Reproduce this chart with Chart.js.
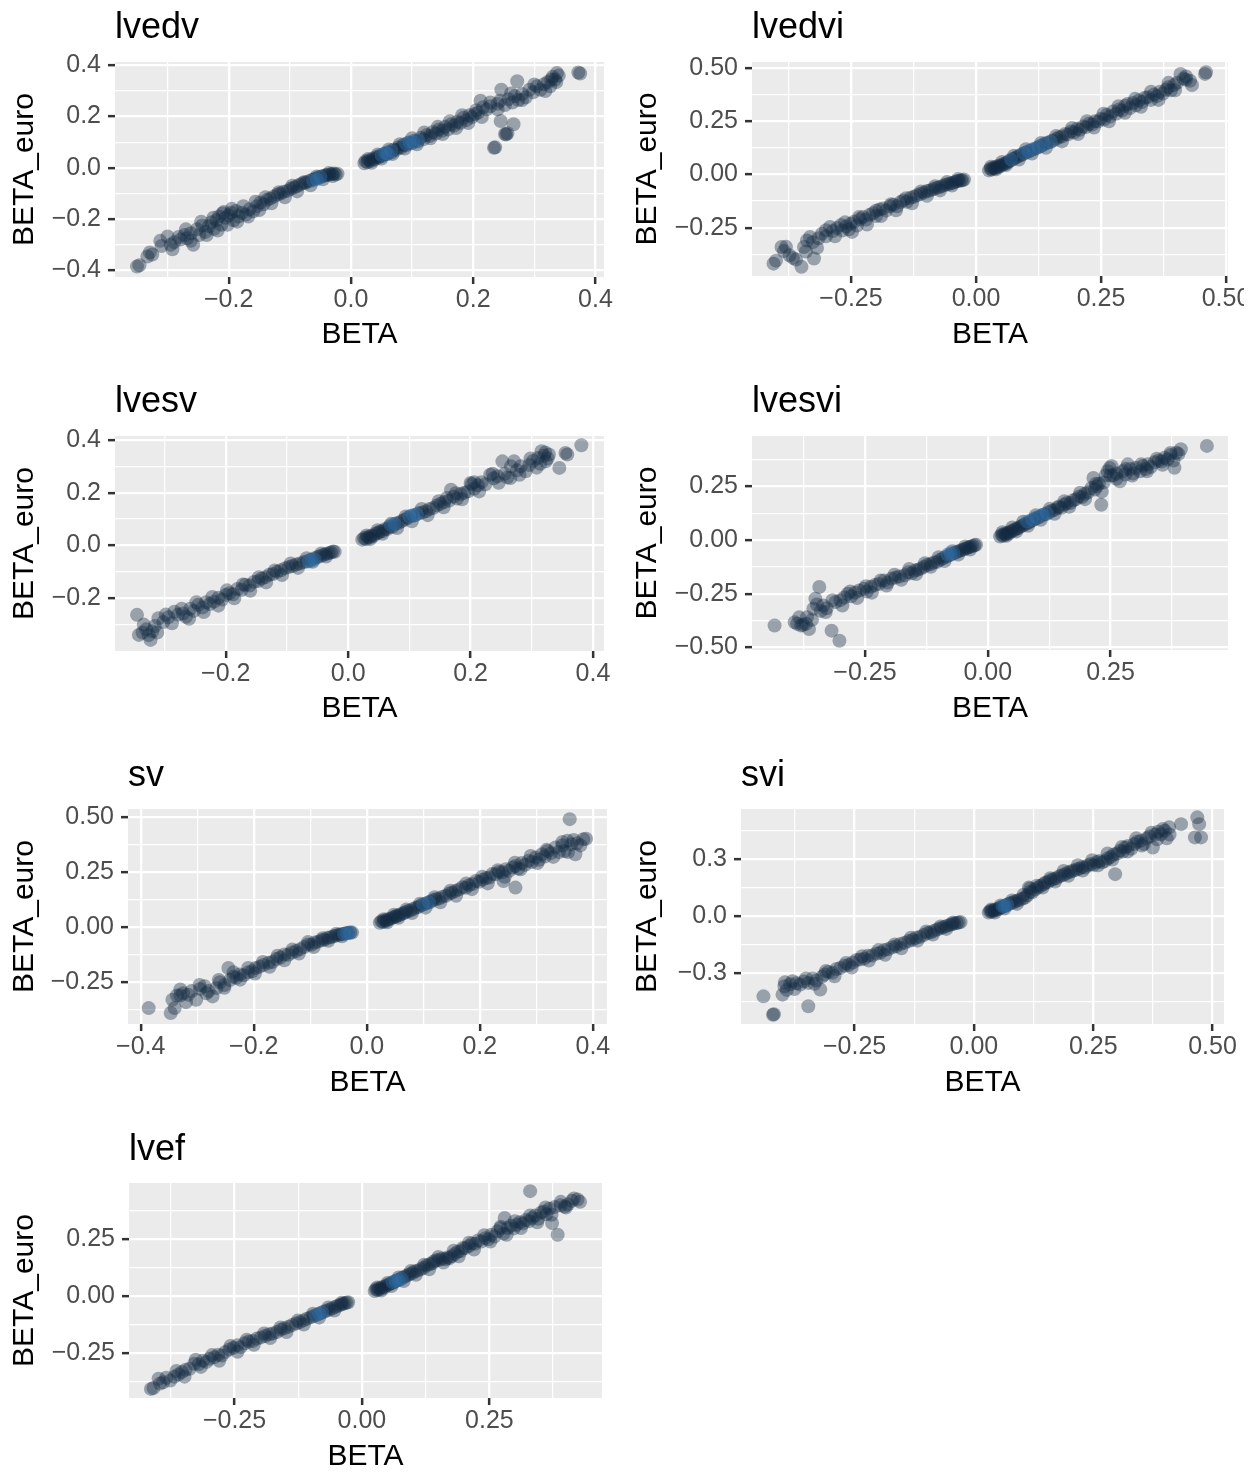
<!DOCTYPE html>
<html><head><meta charset="utf-8">
<script src="https://cdn.jsdelivr.net/npm/chart.js@4.4.1/dist/chart.umd.min.js"></script>
<style>
html,body{margin:0;padding:0;background:#fff;width:1258px;height:1472px;overflow:hidden;position:relative;}
canvas{position:absolute;}
</style></head><body>
<script>
// ---------------- DATA ----------------
const panelTitles = ["lvedv","lvedvi","lvesv","lvesvi","sv","svi","lvef"];
const xAxisTitle = "BETA";
const yAxisTitle = "BETA_euro";

// tick values and labels
const lvedvXTicks = [-0.2,0,0.2,0.4];      const lvedvXLabels = ["−0.2","0.0","0.2","0.4"];
const lvedvYTicks = [-0.4,-0.2,0,0.2,0.4]; const lvedvYLabels = ["−0.4","−0.2","0.0","0.2","0.4"];
const lvedviXTicks = [-0.25,0,0.25,0.5];   const lvedviXLabels = ["−0.25","0.00","0.25","0.50"];
const lvedviYTicks = [-0.25,0,0.25,0.5];   const lvedviYLabels = ["−0.25","0.00","0.25","0.50"];
const lvesvXTicks = [-0.2,0,0.2,0.4];      const lvesvXLabels = ["−0.2","0.0","0.2","0.4"];
const lvesvYTicks = [-0.2,0,0.2,0.4];      const lvesvYLabels = ["−0.2","0.0","0.2","0.4"];
const lvesviXTicks = [-0.25,0,0.25];       const lvesviXLabels = ["−0.25","0.00","0.25"];
const lvesviYTicks = [-0.5,-0.25,0,0.25];  const lvesviYLabels = ["−0.50","−0.25","0.00","0.25"];
const svXTicks = [-0.4,-0.2,0,0.2,0.4];    const svXLabels = ["−0.4","−0.2","0.0","0.2","0.4"];
const svYTicks = [-0.25,0,0.25,0.5];       const svYLabels = ["−0.25","0.00","0.25","0.50"];
const sviXTicks = [-0.25,0,0.25,0.5];      const sviXLabels = ["−0.25","0.00","0.25","0.50"];
const sviYTicks = [-0.3,0,0.3];            const sviYLabels = ["−0.3","0.0","0.3"];
const lvefXTicks = [-0.25,0,0.25];         const lvefXLabels = ["−0.25","0.00","0.25"];
const lvefYTicks = [-0.25,0,0.25];         const lvefYLabels = ["−0.25","0.00","0.25"];

// points [BETA, BETA_euro]
const lvedvPts = [[-0.350,-0.385],[-0.346,-0.380],[-0.333,-0.346],[-0.329,-0.330],[-0.325,-0.338],[-0.312,-0.285],[-0.310,-0.305],[-0.295,-0.300],[-0.289,-0.290],[-0.282,-0.270],[-0.279,-0.280],[-0.272,-0.262],[-0.268,-0.275],[-0.262,-0.255],[-0.258,-0.300],[-0.252,-0.240],[-0.248,-0.262],[-0.243,-0.225],[-0.238,-0.250],[-0.232,-0.228],[-0.228,-0.212],[-0.224,-0.238],[-0.220,-0.205],[-0.216,-0.190],[-0.212,-0.222],[-0.208,-0.172],[-0.205,-0.195],[-0.200,-0.185],[-0.196,-0.175],[-0.192,-0.205],[-0.188,-0.168],[-0.184,-0.190],[-0.178,-0.175],[-0.172,-0.182],[-0.166,-0.162],[-0.160,-0.170],[-0.154,-0.150],[-0.148,-0.135],[-0.143,-0.142],[-0.137,-0.125],[-0.132,-0.120],[-0.126,-0.112],[-0.120,-0.104],[-0.115,-0.100],[-0.110,-0.093],[-0.104,-0.090],[-0.099,-0.082],[-0.094,-0.078],[-0.089,-0.072],[-0.084,-0.066],[-0.079,-0.060],[-0.074,-0.058],[-0.069,-0.052],[-0.064,-0.047],[-0.060,-0.044],[-0.055,-0.040],[-0.051,-0.036],[-0.047,-0.033],[-0.043,-0.030],[-0.039,-0.028],[-0.035,-0.026],[-0.031,-0.024],[-0.028,-0.022],[-0.025,-0.026],[-0.022,-0.023],
[0.022,0.018],[0.024,0.026],[0.027,0.022],[0.030,0.030],[0.033,0.027],[0.036,0.036],[0.039,0.033],[0.042,0.042],[0.045,0.040],[0.048,0.048],[0.051,0.046],[0.055,0.055],[0.058,0.053],[0.062,0.062],[0.066,0.060],[0.070,0.072],[0.074,0.070],[0.078,0.080],[0.082,0.078],[0.086,0.090],[0.090,0.088],[0.094,0.098],[0.099,0.096],[0.104,0.106],[0.109,0.104],[0.114,0.117],[0.119,0.112],[0.124,0.128],[0.129,0.124],[0.134,0.140],[0.139,0.134],[0.144,0.150],[0.149,0.145],[0.154,0.160],[0.159,0.150],[0.164,0.170],[0.169,0.165],[0.174,0.180],[0.179,0.175],[0.184,0.195],[0.189,0.186],[0.194,0.205],[0.198,0.198],[0.203,0.210],[0.208,0.215],[0.212,0.262],[0.216,0.236],[0.222,0.228],[0.228,0.240],[0.234,0.078],[0.236,0.080],[0.240,0.250],[0.244,0.262],[0.246,0.305],[0.245,0.183],[0.252,0.132],[0.254,0.130],[0.256,0.135],[0.252,0.245],[0.258,0.268],[0.264,0.255],[0.266,0.170],[0.268,0.280],[0.272,0.338],[0.274,0.265],[0.280,0.288],[0.286,0.275],[0.292,0.305],[0.298,0.295],[0.304,0.318],[0.310,0.305],[0.316,0.326],[0.322,0.335],[0.326,0.318],[0.330,0.355],[0.334,0.345],[0.337,0.370],[0.340,0.360],[0.372,0.372],[0.375,0.368]];
const lvedvPts2 = [[-0.300,-0.268],[-0.292,-0.318],[-0.270,-0.240],[-0.262,-0.285],[-0.245,-0.210],[-0.236,-0.262],[-0.225,-0.195],[-0.218,-0.245],[-0.210,-0.178],[-0.202,-0.222],[-0.195,-0.160],[-0.186,-0.210],[-0.176,-0.150],[-0.168,-0.190],[-0.156,-0.132],[-0.150,-0.165],[-0.140,-0.115],[-0.130,-0.138],[-0.118,-0.095],[-0.108,-0.115],[-0.096,-0.070],[-0.088,-0.092],[-0.076,-0.055],[-0.066,-0.068],[-0.056,-0.034],[-0.046,-0.045],[-0.036,-0.020],[-0.030,-0.032],
[0.028,0.034],[0.034,0.020],[0.044,0.052],[0.050,0.036],[0.062,0.072],[0.068,0.054],[0.080,0.092],[0.088,0.075],[0.100,0.115],[0.108,0.092],[0.120,0.138],[0.130,0.115],[0.142,0.160],[0.150,0.132],[0.162,0.182],[0.172,0.155],[0.182,0.205],[0.192,0.175],[0.205,0.225],[0.214,0.198],[0.228,0.255],[0.240,0.228],[0.262,0.290],[0.280,0.265],[0.300,0.325],[0.318,0.300],[0.328,0.345],[0.336,0.335]];
const lvedvBlue = [[-0.062,-0.050],[-0.056,-0.045],[-0.050,-0.038],[0.050,0.050],[0.056,0.058],[0.060,0.055],[0.066,0.066],[0.090,0.094],[0.096,0.100],[0.102,0.100],[0.110,0.108]];

const lvedviPts = [[-0.405,-0.419],[-0.400,-0.405],[-0.389,-0.341],[-0.384,-0.360],[-0.373,-0.380],[-0.366,-0.392],[-0.349,-0.434],[-0.344,-0.341],[-0.340,-0.362],[-0.332,-0.294],[-0.326,-0.318],[-0.324,-0.395],[-0.315,-0.300],[-0.308,-0.278],[-0.300,-0.290],[-0.292,-0.247],[-0.286,-0.266],[-0.278,-0.252],[-0.270,-0.238],[-0.267,-0.263],[-0.260,-0.245],[-0.254,-0.258],[-0.251,-0.232],[-0.244,-0.222],[-0.238,-0.240],[-0.232,-0.210],[-0.226,-0.200],[-0.220,-0.212],[-0.213,-0.190],[-0.206,-0.182],[-0.200,-0.195],[-0.193,-0.165],[-0.186,-0.160],[-0.180,-0.170],[-0.172,-0.150],[-0.165,-0.142],[-0.158,-0.150],[-0.151,-0.130],[-0.145,-0.122],[-0.138,-0.128],[-0.131,-0.110],[-0.124,-0.105],[-0.118,-0.098],[-0.111,-0.092],[-0.104,-0.085],[-0.098,-0.078],[-0.092,-0.075],[-0.086,-0.070],[-0.080,-0.064],[-0.074,-0.060],[-0.068,-0.055],[-0.062,-0.050],[-0.057,-0.046],[-0.052,-0.043],[-0.047,-0.040],[-0.042,-0.035],[-0.038,-0.032],[-0.034,-0.030],[-0.030,-0.027],[-0.027,-0.028],[-0.024,-0.024],
[0.026,0.019],[0.029,0.027],[0.032,0.023],[0.035,0.032],[0.038,0.029],[0.041,0.037],[0.044,0.034],[0.047,0.042],[0.050,0.040],[0.054,0.048],[0.058,0.050],[0.062,0.056],[0.066,0.062],[0.070,0.066],[0.074,0.072],[0.079,0.078],[0.084,0.084],[0.089,0.090],[0.094,0.096],[0.099,0.102],[0.105,0.108],[0.111,0.114],[0.117,0.120],[0.123,0.126],[0.129,0.132],[0.135,0.140],[0.141,0.148],[0.147,0.152],[0.153,0.158],[0.160,0.166],[0.166,0.175],[0.172,0.178],[0.178,0.190],[0.184,0.188],[0.190,0.202],[0.196,0.198],[0.202,0.214],[0.208,0.210],[0.214,0.225],[0.220,0.222],[0.226,0.238],[0.232,0.234],[0.238,0.250],[0.244,0.248],[0.250,0.262],[0.256,0.258],[0.262,0.280],[0.268,0.272],[0.274,0.295],[0.280,0.285],[0.286,0.305],[0.292,0.300],[0.298,0.322],[0.303,0.331],[0.308,0.312],[0.314,0.335],[0.320,0.325],[0.326,0.348],[0.332,0.340],[0.338,0.360],[0.344,0.363],[0.350,0.350],[0.356,0.375],[0.362,0.368],[0.368,0.388],[0.374,0.380],[0.380,0.398],[0.384,0.409],[0.390,0.395],[0.396,0.420],[0.402,0.430],[0.409,0.472],[0.415,0.450],[0.420,0.445],[0.428,0.440],[0.458,0.472],[0.460,0.480]];
const lvedviPts2 = [[-0.380,-0.340],[-0.360,-0.400],[-0.338,-0.310],[-0.318,-0.345],[-0.300,-0.262],[-0.282,-0.290],[-0.262,-0.225],[-0.248,-0.270],[-0.234,-0.200],[-0.218,-0.235],[-0.200,-0.170],[-0.190,-0.195],[-0.170,-0.140],[-0.160,-0.168],[-0.140,-0.112],[-0.128,-0.135],[-0.110,-0.080],[-0.098,-0.100],[-0.082,-0.055],[-0.072,-0.075],[-0.058,-0.035],[-0.048,-0.052],[-0.036,-0.022],
[0.030,0.036],[0.040,0.024],[0.052,0.058],[0.060,0.044],[0.076,0.088],[0.086,0.070],[0.100,0.118],[0.112,0.098],[0.130,0.148],[0.140,0.125],[0.160,0.180],[0.172,0.155],[0.192,0.218],[0.204,0.190],[0.222,0.250],[0.236,0.220],[0.255,0.285],[0.266,0.250],[0.285,0.320],[0.298,0.290],[0.318,0.355],[0.330,0.318],[0.350,0.388],[0.365,0.350],[0.385,0.430],[0.398,0.395],[0.420,0.460],[0.432,0.420]];
const lvedviBlue = [[0.070,0.070],[0.095,0.100],[0.105,0.110],[0.115,0.120],[0.125,0.128],[0.135,0.142],[0.150,0.152]];

const lvesvPts = [[-0.345,-0.263],[-0.342,-0.339],[-0.336,-0.330],[-0.330,-0.318],[-0.326,-0.340],[-0.323,-0.358],[-0.320,-0.325],[-0.316,-0.305],[-0.310,-0.276],[-0.302,-0.290],[-0.294,-0.272],[-0.284,-0.251],[-0.278,-0.262],[-0.270,-0.258],[-0.265,-0.270],[-0.258,-0.240],[-0.252,-0.248],[-0.245,-0.225],[-0.238,-0.235],[-0.232,-0.215],[-0.226,-0.222],[-0.219,-0.213],[-0.212,-0.198],[-0.206,-0.205],[-0.200,-0.188],[-0.194,-0.181],[-0.188,-0.185],[-0.181,-0.165],[-0.174,-0.168],[-0.168,-0.149],[-0.161,-0.152],[-0.154,-0.138],[-0.147,-0.135],[-0.141,-0.125],[-0.135,-0.120],[-0.129,-0.111],[-0.123,-0.108],[-0.116,-0.100],[-0.110,-0.094],[-0.103,-0.086],[-0.097,-0.082],[-0.091,-0.078],[-0.085,-0.072],[-0.079,-0.068],[-0.073,-0.064],[-0.067,-0.060],[-0.061,-0.054],[-0.055,-0.048],[-0.050,-0.044],[-0.045,-0.040],[-0.040,-0.035],[-0.036,-0.032],[-0.032,-0.029],[-0.028,-0.027],[-0.025,-0.023],[-0.022,-0.024],
[0.023,0.022],[0.026,0.028],[0.029,0.024],[0.032,0.032],[0.035,0.030],[0.038,0.038],[0.041,0.036],[0.045,0.044],[0.049,0.048],[0.052,0.053],[0.056,0.054],[0.060,0.062],[0.064,0.062],[0.068,0.072],[0.072,0.070],[0.077,0.082],[0.082,0.085],[0.087,0.092],[0.092,0.098],[0.097,0.104],[0.103,0.112],[0.109,0.114],[0.115,0.122],[0.121,0.125],[0.127,0.130],[0.133,0.138],[0.139,0.142],[0.145,0.152],[0.151,0.158],[0.157,0.165],[0.161,0.180],[0.165,0.170],[0.168,0.211],[0.172,0.185],[0.178,0.178],[0.184,0.195],[0.190,0.200],[0.196,0.205],[0.200,0.237],[0.202,0.232],[0.206,0.215],[0.212,0.228],[0.218,0.240],[0.224,0.232],[0.232,0.268],[0.238,0.255],[0.244,0.262],[0.252,0.319],[0.256,0.272],[0.260,0.258],[0.265,0.256],[0.271,0.319],[0.276,0.285],[0.282,0.300],[0.290,0.281],[0.296,0.305],[0.302,0.320],[0.310,0.332],[0.314,0.310],[0.316,0.357],[0.320,0.340],[0.323,0.319],[0.328,0.345],[0.345,0.294],[0.355,0.351],[0.358,0.345],[0.381,0.380]];
const lvesvPts2 = [[-0.334,-0.300],[-0.312,-0.330],[-0.298,-0.262],[-0.288,-0.295],[-0.272,-0.240],[-0.260,-0.278],[-0.248,-0.215],[-0.236,-0.252],[-0.222,-0.195],[-0.212,-0.228],[-0.198,-0.170],[-0.186,-0.200],[-0.172,-0.148],[-0.160,-0.172],[-0.146,-0.120],[-0.134,-0.140],[-0.120,-0.095],[-0.108,-0.112],[-0.094,-0.068],[-0.082,-0.085],[-0.068,-0.048],[-0.058,-0.062],[-0.044,-0.030],[-0.036,-0.042],
[0.030,0.038],[0.036,0.024],[0.048,0.058],[0.056,0.044],[0.070,0.082],[0.080,0.066],[0.094,0.110],[0.104,0.092],[0.120,0.138],[0.130,0.115],[0.148,0.168],[0.156,0.145],[0.176,0.198],[0.186,0.175],[0.206,0.240],[0.214,0.205],[0.236,0.272],[0.246,0.238],[0.266,0.300],[0.280,0.268],[0.298,0.330],[0.308,0.295],[0.322,0.352],[0.326,0.330]];
const lvesvBlue = [[-0.065,-0.061],[-0.060,-0.058],[-0.055,-0.052],[0.070,0.078],[0.076,0.082],[0.100,0.110],[0.106,0.116],[0.112,0.118]];

const lvesviPts = [[-0.434,-0.398],[-0.393,-0.383],[-0.388,-0.390],[-0.380,-0.398],[-0.376,-0.395],[-0.368,-0.359],[-0.364,-0.414],[-0.358,-0.372],[-0.355,-0.320],[-0.351,-0.273],[-0.343,-0.219],[-0.340,-0.330],[-0.335,-0.305],[-0.328,-0.318],[-0.318,-0.422],[-0.310,-0.289],[-0.302,-0.469],[-0.300,-0.280],[-0.292,-0.268],[-0.285,-0.250],[-0.278,-0.262],[-0.270,-0.245],[-0.262,-0.235],[-0.252,-0.227],[-0.246,-0.240],[-0.238,-0.218],[-0.230,-0.210],[-0.222,-0.205],[-0.211,-0.188],[-0.204,-0.198],[-0.196,-0.180],[-0.188,-0.175],[-0.180,-0.170],[-0.169,-0.164],[-0.162,-0.150],[-0.155,-0.155],[-0.148,-0.142],[-0.142,-0.138],[-0.136,-0.133],[-0.130,-0.125],[-0.123,-0.115],[-0.116,-0.112],[-0.110,-0.105],[-0.103,-0.102],[-0.097,-0.092],[-0.091,-0.085],[-0.085,-0.078],[-0.079,-0.072],[-0.073,-0.066],[-0.067,-0.060],[-0.062,-0.055],[-0.057,-0.050],[-0.052,-0.046],[-0.047,-0.042],[-0.043,-0.038],[-0.039,-0.034],[-0.035,-0.031],[-0.031,-0.028],[-0.027,-0.025],[-0.024,-0.022],
[0.025,0.016],[0.028,0.024],[0.031,0.020],[0.034,0.029],[0.037,0.025],[0.040,0.034],[0.043,0.030],[0.046,0.040],[0.050,0.042],[0.054,0.048],[0.058,0.052],[0.062,0.055],[0.066,0.062],[0.070,0.066],[0.075,0.072],[0.080,0.078],[0.085,0.084],[0.090,0.090],[0.095,0.096],[0.100,0.102],[0.106,0.108],[0.112,0.117],[0.118,0.120],[0.124,0.128],[0.130,0.136],[0.136,0.140],[0.142,0.150],[0.145,0.156],[0.150,0.150],[0.156,0.165],[0.161,0.172],[0.168,0.172],[0.174,0.185],[0.180,0.190],[0.186,0.203],[0.192,0.200],[0.198,0.215],[0.204,0.222],[0.211,0.242],[0.215,0.289],[0.218,0.235],[0.222,0.250],[0.226,0.262],[0.231,0.164],[0.236,0.268],[0.240,0.300],[0.244,0.320],[0.248,0.335],[0.252,0.344],[0.256,0.300],[0.262,0.310],[0.269,0.273],[0.275,0.320],[0.280,0.305],[0.285,0.352],[0.290,0.330],[0.296,0.310],[0.302,0.335],[0.310,0.320],[0.316,0.345],[0.322,0.330],[0.326,0.352],[0.332,0.340],[0.340,0.362],[0.348,0.370],[0.354,0.365],[0.360,0.383],[0.366,0.375],[0.372,0.395],[0.380,0.336],[0.384,0.406],[0.388,0.400],[0.393,0.422],[0.446,0.438]];
const lvesviPts2 = [[-0.384,-0.360],[-0.370,-0.390],[-0.348,-0.300],[-0.330,-0.335],[-0.316,-0.280],[-0.296,-0.305],[-0.280,-0.240],[-0.266,-0.270],[-0.248,-0.215],[-0.236,-0.245],[-0.218,-0.188],[-0.206,-0.212],[-0.190,-0.162],[-0.176,-0.185],[-0.160,-0.135],[-0.146,-0.158],[-0.128,-0.108],[-0.116,-0.125],[-0.100,-0.080],[-0.088,-0.098],[-0.072,-0.052],[-0.060,-0.068],[-0.046,-0.030],[-0.036,-0.044],
[0.030,0.036],[0.038,0.020],[0.050,0.058],[0.058,0.040],[0.072,0.085],[0.082,0.066],[0.098,0.115],[0.108,0.094],[0.126,0.145],[0.136,0.122],[0.156,0.180],[0.166,0.155],[0.188,0.220],[0.198,0.190],[0.220,0.262],[0.232,0.225],[0.250,0.300],[0.262,0.285],[0.280,0.330],[0.294,0.300],[0.312,0.352],[0.324,0.320],[0.344,0.378],[0.356,0.350],[0.372,0.405],[0.378,0.370]];
const lvesviBlue = [[-0.082,-0.068],[-0.076,-0.063],[-0.070,-0.060],[0.080,0.086],[0.090,0.095],[0.100,0.106],[0.112,0.117],[0.120,0.125]];

const svPts = [[-0.386,-0.367],[-0.347,-0.389],[-0.344,-0.329],[-0.340,-0.367],[-0.336,-0.310],[-0.330,-0.283],[-0.325,-0.300],[-0.316,-0.306],[-0.310,-0.290],[-0.302,-0.329],[-0.295,-0.280],[-0.287,-0.268],[-0.280,-0.290],[-0.273,-0.314],[-0.266,-0.276],[-0.260,-0.250],[-0.252,-0.262],[-0.245,-0.185],[-0.242,-0.240],[-0.236,-0.225],[-0.231,-0.230],[-0.225,-0.215],[-0.218,-0.218],[-0.210,-0.205],[-0.203,-0.200],[-0.197,-0.185],[-0.190,-0.180],[-0.183,-0.172],[-0.174,-0.162],[-0.167,-0.158],[-0.160,-0.145],[-0.153,-0.138],[-0.146,-0.124],[-0.139,-0.125],[-0.132,-0.115],[-0.125,-0.108],[-0.118,-0.100],[-0.111,-0.090],[-0.104,-0.079],[-0.098,-0.080],[-0.092,-0.070],[-0.086,-0.066],[-0.080,-0.060],[-0.075,-0.056],[-0.069,-0.048],[-0.064,-0.046],[-0.059,-0.042],[-0.054,-0.038],[-0.049,-0.035],[-0.045,-0.032],[-0.041,-0.030],[-0.037,-0.028],[-0.033,-0.026],[-0.029,-0.024],[-0.026,-0.025],
[0.023,0.020],[0.026,0.027],[0.029,0.023],[0.032,0.031],[0.035,0.028],[0.038,0.036],[0.042,0.038],[0.046,0.043],[0.050,0.046],[0.052,0.050],[0.056,0.054],[0.060,0.058],[0.064,0.062],[0.068,0.066],[0.072,0.072],[0.077,0.075],[0.082,0.082],[0.087,0.088],[0.092,0.092],[0.097,0.100],[0.102,0.104],[0.107,0.110],[0.112,0.114],[0.117,0.122],[0.122,0.126],[0.128,0.130],[0.134,0.138],[0.140,0.142],[0.146,0.152],[0.151,0.156],[0.157,0.164],[0.163,0.170],[0.169,0.180],[0.175,0.178],[0.181,0.190],[0.187,0.195],[0.193,0.209],[0.199,0.205],[0.205,0.215],[0.211,0.222],[0.217,0.225],[0.222,0.240],[0.228,0.239],[0.234,0.250],[0.240,0.248],[0.242,0.209],[0.246,0.262],[0.252,0.255],[0.258,0.270],[0.263,0.277],[0.263,0.179],[0.268,0.265],[0.274,0.290],[0.280,0.282],[0.286,0.300],[0.292,0.295],[0.299,0.315],[0.305,0.305],[0.310,0.330],[0.315,0.320],[0.320,0.345],[0.326,0.335],[0.334,0.361],[0.340,0.340],[0.346,0.370],[0.350,0.345],[0.355,0.391],[0.359,0.489],[0.362,0.375],[0.369,0.330],[0.372,0.380],[0.383,0.398],[0.388,0.400]];
const svPts2 = [[-0.330,-0.310],[-0.320,-0.340],[-0.296,-0.262],[-0.284,-0.300],[-0.262,-0.240],[-0.252,-0.275],[-0.236,-0.205],[-0.224,-0.238],[-0.210,-0.185],[-0.198,-0.210],[-0.184,-0.158],[-0.172,-0.180],[-0.158,-0.130],[-0.146,-0.150],[-0.132,-0.102],[-0.120,-0.120],[-0.104,-0.068],[-0.094,-0.090],[-0.078,-0.050],[-0.068,-0.062],[-0.054,-0.030],[-0.044,-0.042],
[0.030,0.036],[0.036,0.022],[0.048,0.056],[0.056,0.042],[0.070,0.080],[0.080,0.064],[0.094,0.106],[0.104,0.088],[0.120,0.135],[0.130,0.112],[0.148,0.165],[0.158,0.142],[0.176,0.198],[0.186,0.172],[0.204,0.228],[0.214,0.198],[0.232,0.258],[0.244,0.228],[0.262,0.292],[0.272,0.262],[0.290,0.322],[0.302,0.290],[0.318,0.350],[0.330,0.318],[0.346,0.385],[0.356,0.340],[0.366,0.395],[0.378,0.370]];
const svBlue = [[-0.040,-0.032],[-0.035,-0.028],[-0.030,-0.026],[0.100,0.104],[0.110,0.112]];

const sviPts = [[-0.441,-0.424],[-0.421,-0.521],[-0.419,-0.518],[-0.401,-0.415],[-0.397,-0.371],[-0.392,-0.390],[-0.385,-0.360],[-0.380,-0.344],[-0.372,-0.355],[-0.364,-0.362],[-0.356,-0.345],[-0.347,-0.476],[-0.347,-0.353],[-0.338,-0.330],[-0.330,-0.340],[-0.322,-0.388],[-0.318,-0.320],[-0.313,-0.309],[-0.305,-0.295],[-0.296,-0.300],[-0.288,-0.280],[-0.280,-0.274],[-0.271,-0.262],[-0.262,-0.258],[-0.254,-0.245],[-0.246,-0.232],[-0.238,-0.229],[-0.230,-0.225],[-0.222,-0.210],[-0.213,-0.208],[-0.204,-0.198],[-0.196,-0.194],[-0.188,-0.180],[-0.180,-0.175],[-0.171,-0.165],[-0.163,-0.160],[-0.154,-0.148],[-0.145,-0.141],[-0.137,-0.132],[-0.129,-0.126],[-0.121,-0.115],[-0.113,-0.110],[-0.105,-0.100],[-0.097,-0.090],[-0.090,-0.086],[-0.083,-0.078],[-0.076,-0.070],[-0.069,-0.064],[-0.063,-0.058],[-0.057,-0.052],[-0.051,-0.048],[-0.046,-0.044],[-0.041,-0.040],[-0.036,-0.037],[-0.032,-0.034],[-0.028,-0.032],
[0.031,0.018],[0.034,0.026],[0.037,0.022],[0.040,0.030],[0.043,0.028],[0.046,0.036],[0.050,0.034],[0.054,0.042],[0.058,0.046],[0.062,0.050],[0.066,0.055],[0.070,0.060],[0.075,0.066],[0.080,0.070],[0.085,0.075],[0.090,0.080],[0.096,0.086],[0.102,0.092],[0.107,0.097],[0.112,0.110],[0.115,0.150],[0.118,0.145],[0.122,0.125],[0.128,0.140],[0.134,0.150],[0.140,0.160],[0.146,0.168],[0.149,0.176],[0.155,0.180],[0.161,0.190],[0.167,0.195],[0.173,0.200],[0.179,0.210],[0.185,0.215],[0.191,0.221],[0.197,0.230],[0.203,0.235],[0.209,0.240],[0.215,0.245],[0.221,0.250],[0.227,0.258],[0.233,0.256],[0.239,0.268],[0.245,0.275],[0.251,0.270],[0.257,0.285],[0.263,0.290],[0.269,0.284],[0.275,0.291],[0.281,0.305],[0.287,0.312],[0.293,0.325],[0.296,0.221],[0.300,0.330],[0.306,0.345],[0.312,0.340],[0.317,0.362],[0.323,0.370],[0.330,0.355],[0.336,0.380],[0.342,0.392],[0.350,0.397],[0.356,0.380],[0.362,0.410],[0.368,0.420],[0.375,0.362],[0.380,0.430],[0.386,0.445],[0.392,0.432],[0.400,0.450],[0.404,0.410],[0.409,0.468],[0.434,0.485],[0.463,0.415],[0.468,0.521],[0.472,0.485],[0.476,0.415]];
const sviPts2 = [[-0.396,-0.350],[-0.376,-0.385],[-0.352,-0.330],[-0.334,-0.358],[-0.310,-0.290],[-0.292,-0.318],[-0.268,-0.248],[-0.256,-0.272],[-0.234,-0.212],[-0.220,-0.235],[-0.200,-0.180],[-0.186,-0.205],[-0.166,-0.150],[-0.152,-0.170],[-0.132,-0.115],[-0.118,-0.130],[-0.100,-0.082],[-0.086,-0.098],[-0.070,-0.055],[-0.058,-0.068],[-0.044,-0.034],
[0.036,0.034],[0.044,0.018],[0.056,0.056],[0.064,0.040],[0.080,0.082],[0.090,0.064],[0.104,0.112],[0.118,0.128],[0.132,0.160],[0.144,0.150],[0.160,0.200],[0.170,0.182],[0.188,0.238],[0.198,0.212],[0.218,0.268],[0.228,0.240],[0.248,0.295],[0.260,0.268],[0.280,0.330],[0.290,0.298],[0.310,0.365],[0.322,0.340],[0.340,0.410],[0.352,0.372],[0.372,0.440],[0.384,0.405],[0.396,0.460],[0.410,0.430]];
const sviBlue = [[0.060,0.052],[0.065,0.053],[0.070,0.058]];

const lvefPts = [[-0.414,-0.409],[-0.409,-0.405],[-0.399,-0.364],[-0.390,-0.380],[-0.376,-0.372],[-0.368,-0.355],[-0.360,-0.345],[-0.353,-0.335],[-0.346,-0.325],[-0.338,-0.320],[-0.329,-0.298],[-0.320,-0.300],[-0.312,-0.285],[-0.305,-0.290],[-0.299,-0.276],[-0.290,-0.270],[-0.282,-0.258],[-0.275,-0.262],[-0.268,-0.246],[-0.260,-0.235],[-0.252,-0.228],[-0.245,-0.217],[-0.238,-0.225],[-0.230,-0.208],[-0.222,-0.200],[-0.214,-0.198],[-0.206,-0.187],[-0.198,-0.182],[-0.190,-0.176],[-0.182,-0.168],[-0.175,-0.165],[-0.167,-0.158],[-0.159,-0.148],[-0.152,-0.142],[-0.144,-0.135],[-0.137,-0.128],[-0.129,-0.121],[-0.122,-0.115],[-0.115,-0.108],[-0.108,-0.100],[-0.101,-0.094],[-0.095,-0.088],[-0.088,-0.082],[-0.082,-0.076],[-0.076,-0.070],[-0.070,-0.065],[-0.064,-0.060],[-0.058,-0.054],[-0.052,-0.047],[-0.047,-0.043],[-0.042,-0.038],[-0.038,-0.035],[-0.034,-0.032],[-0.030,-0.029],[-0.027,-0.027],
[0.025,0.022],[0.028,0.030],[0.031,0.026],[0.034,0.034],[0.037,0.031],[0.040,0.040],[0.044,0.038],[0.048,0.046],[0.052,0.050],[0.056,0.055],[0.060,0.058],[0.064,0.063],[0.068,0.068],[0.073,0.072],[0.078,0.080],[0.083,0.085],[0.088,0.090],[0.093,0.096],[0.098,0.100],[0.103,0.108],[0.109,0.112],[0.115,0.118],[0.121,0.125],[0.127,0.135],[0.133,0.140],[0.139,0.145],[0.141,0.152],[0.146,0.158],[0.152,0.160],[0.158,0.165],[0.164,0.162],[0.168,0.170],[0.172,0.167],[0.176,0.175],[0.182,0.185],[0.188,0.195],[0.194,0.198],[0.198,0.212],[0.203,0.211],[0.210,0.220],[0.216,0.232],[0.222,0.230],[0.228,0.245],[0.234,0.240],[0.242,0.255],[0.248,0.250],[0.254,0.270],[0.260,0.262],[0.266,0.285],[0.272,0.299],[0.278,0.275],[0.280,0.344],[0.286,0.300],[0.292,0.310],[0.298,0.298],[0.303,0.314],[0.310,0.325],[0.316,0.320],[0.322,0.335],[0.328,0.330],[0.330,0.462],[0.334,0.344],[0.340,0.355],[0.346,0.340],[0.352,0.368],[0.357,0.373],[0.362,0.360],[0.368,0.385],[0.373,0.322],[0.378,0.392],[0.384,0.270],[0.390,0.400],[0.398,0.395],[0.404,0.403],[0.412,0.420],[0.423,0.425],[0.428,0.415]];
const lvefPts2 = [[-0.396,-0.385],[-0.384,-0.360],[-0.364,-0.330],[-0.348,-0.355],[-0.326,-0.280],[-0.316,-0.312],[-0.294,-0.260],[-0.280,-0.285],[-0.258,-0.220],[-0.244,-0.245],[-0.226,-0.192],[-0.212,-0.215],[-0.192,-0.165],[-0.180,-0.185],[-0.160,-0.138],[-0.148,-0.158],[-0.126,-0.108],[-0.114,-0.125],[-0.096,-0.078],[-0.084,-0.095],[-0.066,-0.050],[-0.054,-0.064],[-0.040,-0.030],
[0.030,0.038],[0.038,0.024],[0.050,0.058],[0.058,0.044],[0.072,0.082],[0.082,0.066],[0.096,0.110],[0.106,0.094],[0.122,0.138],[0.132,0.118],[0.150,0.172],[0.160,0.148],[0.180,0.200],[0.190,0.175],[0.210,0.235],[0.220,0.205],[0.240,0.268],[0.252,0.240],[0.272,0.305],[0.284,0.270],[0.300,0.330],[0.312,0.300],[0.330,0.355],[0.344,0.325],[0.360,0.390],[0.372,0.358],[0.390,0.415],[0.400,0.390],[0.416,0.430]];
const lvefBlue = [[-0.090,-0.084],[-0.084,-0.078],[-0.078,-0.072],[0.060,0.062],[0.066,0.066],[0.072,0.070],[0.078,0.075]];

// ---------------- LAYOUT / STYLE ----------------
const FONT = '"Liberation Sans", Arial, Helvetica, sans-serif';
Chart.defaults.font.family = FONT;
const DOT = 'rgba(19,43,67,0.38)';
const DOT_HI = 'rgba(50,112,170,0.42)';
const PANEL_BG = '#EBEBEB';
const RADIUS = 7;

const panels = [
  {title:panelTitles[0], row:0, col:0, L:115, R:604, T:62, B:277, x:[-0.386,0.414], y:[-0.426,0.413], xt:lvedvXTicks, xl:lvedvXLabels, yt:lvedvYTicks, yl:lvedvYLabels, pts:lvedvPts.concat(lvedvPts2), hi:lvedvBlue},
  {title:panelTitles[1], row:0, col:1, L:752, R:1228, T:62, B:276, x:[-0.448,0.504], y:[-0.477,0.528], xt:lvedviXTicks, xl:lvedviXLabels, yt:lvedviYTicks, yl:lvedviYLabels, pts:lvedviPts.concat(lvedviPts2), hi:lvedviBlue},
  {title:panelTitles[2], row:1, col:0, L:115, R:604, T:436, B:651, x:[-0.381,0.418], y:[-0.400,0.415], xt:lvesvXTicks, xl:lvesvXLabels, yt:lvesvYTicks, yl:lvesvYLabels, pts:lvesvPts.concat(lvesvPts2), hi:lvesvBlue},
  {title:panelTitles[3], row:1, col:1, L:752, R:1228, T:436, B:650, x:[-0.480,0.489], y:[-0.512,0.484], xt:lvesviXTicks, xl:lvesviXLabels, yt:lvesviYTicks, yl:lvesviYLabels, pts:lvesviPts.concat(lvesviPts2), hi:lvesviBlue},
  {title:panelTitles[4], row:2, col:0, L:128, R:607, T:809, B:1024, x:[-0.4226,0.425], y:[-0.439,0.535], xt:svXTicks, xl:svXLabels, yt:svYTicks, yl:svYLabels, pts:svPts.concat(svPts2), hi:svBlue},
  {title:panelTitles[5], row:2, col:1, L:741, R:1224, T:809, B:1024, x:[-0.488,0.524], y:[-0.570,0.565], xt:sviXTicks, xl:sviXLabels, yt:sviYTicks, yl:sviYLabels, pts:sviPts.concat(sviPts2), hi:sviBlue},
  {title:panelTitles[6], row:3, col:0, L:129, R:602, T:1183, B:1398, x:[-0.457,0.471], y:[-0.449,0.498], xt:lvefXTicks, xl:lvefXLabels, yt:lvefYTicks, yl:lvefYLabels, pts:lvefPts.concat(lvefPts2), hi:lvefBlue}
];

function tickList(majors, min, max) {
  const step = majors[1] - majors[0];
  const ext = [majors[0] - step].concat(majors, [majors[majors.length-1] + step]);
  const out = [];
  majors.forEach(v => { if (v >= min && v <= max) out.push({value:v, minor:false}); });
  for (let i = 0; i < ext.length - 1; i++) {
    const m = (ext[i] + ext[i+1]) / 2;
    if (m > min && m < max) out.push({value:m, minor:true});
  }
  out.sort((a,b) => a.value - b.value);
  return out;
}
function labelOf(v, majors, labels) {
  for (let i = 0; i < majors.length; i++) if (Math.abs(majors[i] - v) < 1e-9) return labels[i];
  return '';
}
const isMinor = ctx => !!(ctx.tick && ctx.tick.minor);

const bgTitlePlugin = {
  id: 'ggPanel',
  beforeDraw(chart) {
    const a = chart.chartArea, c = chart.ctx;
    c.save(); c.fillStyle = PANEL_BG; c.fillRect(a.left, a.top, a.right - a.left, a.bottom - a.top); c.restore();
  },
  afterDraw(chart) {
    const c = chart.ctx, a = chart.chartArea;
    c.save();
    c.font = '36px ' + FONT; c.fillStyle = '#000'; c.textBaseline = 'alphabetic'; c.textAlign = 'left';
    c.fillText(chart.options.plugins.ggPanel.title, a.left, 38);
    c.restore();
  }
};

panels.forEach(p => {
  const x0 = p.col === 0 ? 0 : 626;
  const w = p.col === 0 ? 620 : 618;
  const y0 = p.row * 374, h = 374;
  const cv = document.createElement('canvas');
  cv.width = w; cv.height = h;
  cv.style.left = x0 + 'px'; cv.style.top = y0 + 'px';
  cv.style.width = w + 'px'; cv.style.height = h + 'px';
  document.body.appendChild(cv);

  const axisCommon = (majors, labels, min, max) => ({
    type: 'linear', min: min, max: max,
    afterBuildTicks: s => { s.ticks = tickList(majors, min, max); },
    border: {display: false},
    grid: {
      color: '#FFFFFF',
      lineWidth: ctx => isMinor(ctx) ? 1.2 : 2.3,
      tickColor: ctx => isMinor(ctx) ? 'rgba(0,0,0,0)' : '#333333',
      tickWidth: 2.5, tickLength: 7, drawTicks: true, drawOnChartArea: true
    },
    ticks: {
      autoSkip: false, maxRotation: 0, minRotation: 0,
      color: '#4D4D4D', font: {size: 25, family: FONT},
      callback: (v, i, ticks) => (ticks[i] && ticks[i].minor) ? '' : labelOf(v, majors, labels)
    }
  });

  const xs = axisCommon(p.xt, p.xl, p.x[0], p.x[1]);
  xs.position = 'bottom';
  xs.ticks.padding = 1;
  xs.title = {display: true, text: xAxisTitle, color: '#000', font: {size: 30, family: FONT}, padding: {top: 0, bottom: 21}};
  xs.afterFit = s => { s.height = (y0 + h) - p.B; s.paddingLeft = 0; s.paddingRight = 0; };

  const ys = axisCommon(p.yt, p.yl, p.y[0], p.y[1]);
  ys.position = 'left';
  ys.ticks.padding = 7;
  ys.title = {display: true, text: yAxisTitle, color: '#000', font: {size: 30, family: FONT}, padding: {top: p.col === 0 ? 7 : 4, bottom: 0}};
  ys.afterFit = s => { s.width = p.L - x0; s.paddingTop = 0; s.paddingBottom = 0; };

  new Chart(cv, {
    type: 'scatter',
    data: {
      datasets: [
        {data: p.hi.map(d => ({x: d[0], y: d[1]})), backgroundColor: DOT_HI, pointRadius: RADIUS, pointBorderWidth: 0, pointHoverRadius: RADIUS},
        {data: p.pts.map(d => ({x: d[0], y: d[1]})), backgroundColor: DOT, pointRadius: RADIUS, pointBorderWidth: 0, pointHoverRadius: RADIUS}
      ]
    },
    options: {
      responsive: false, animation: false, devicePixelRatio: 1, events: [],
      layout: {padding: {left: 0, top: p.T - y0, right: (x0 + w) - p.R, bottom: 0}},
      plugins: {legend: {display: false}, tooltip: {enabled: false}, title: {display: false}, ggPanel: {title: p.title}},
      scales: {x: xs, y: ys}
    },
    plugins: [bgTitlePlugin]
  });
});
</script>
</body></html>
